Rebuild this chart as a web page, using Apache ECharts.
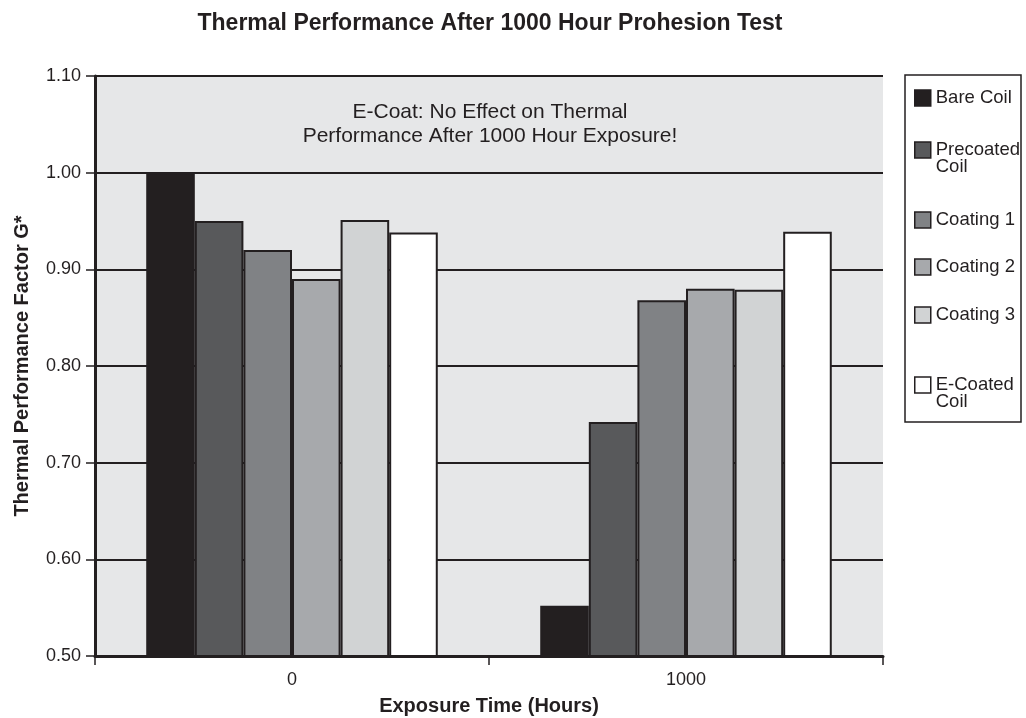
<!DOCTYPE html>
<html>
<head>
<meta charset="utf-8">
<script src="https://cdn.jsdelivr.net/npm/echarts@6/dist/echarts.min.js"></script>
<style>html,body{margin:0;padding:0;background:#fff}#c{width:1026px;height:718px}</style>
</head>
<body>
<div id="c"></div>
<script>
const categories = ['0', '1000'];
const seriesNames = ['Bare Coil', 'Precoated\nCoil', 'Coating 1', 'Coating 2', 'Coating 3', 'E-Coated\nCoil'];
const bareCoil = [1.00, 0.552];
const precoatedCoil = [0.950, 0.742];
const coating1 = [0.920, 0.868];
const coating2 = [0.890, 0.880];
const coating3 = [0.951, 0.879];
const eCoatedCoil = [0.938, 0.939];
const yTicks = [0.5, 0.6, 0.7, 0.8, 0.9, 1.0, 1.1];

const values = [bareCoil, precoatedCoil, coating1, coating2, coating3, eCoatedCoil];
const colors = ['#231f20', '#58595b', '#808285', '#a7a9ac', '#d1d3d4', '#ffffff'];
const FONT = '"Liberation Sans", Arial, Helvetica, sans-serif';
const INK = '#231f20';
const legendTops = [88.5, 123.5, 210.5, 257.5, 305.5, 358.5];

const chart = echarts.init(document.getElementById('c'), null, {renderer: 'canvas'});
const option = {
  backgroundColor: '#ffffff',
  animation: false,
  title: {
    text: 'Thermal Performance After 1000 Hour Prohesion Test',
    left: 490, top: 12, textAlign: 'center', padding: 0,
    textStyle: {fontFamily: FONT, fontWeight: 'bold', fontSize: 23, color: INK}
  },
  legend: seriesNames.map((n, i) => {
    const multi = n.indexOf('\n') >= 0;
    return {
      orient: 'vertical', left: 914, top: legendTops[i], padding: 0,
      data: [n], itemWidth: 16, itemHeight: 16, itemGap: 0, selectedMode: false,
      icon: 'rect',
      formatter: name => (multi ? '\n' + name : name),
      itemStyle: {borderColor: INK, borderWidth: 1.5},
      textStyle: {fontFamily: FONT, fontSize: 18.5, color: INK, lineHeight: 17}
    };
  }),
  grid: {left: 95, right: 143, top: 76, bottom: 62, backgroundColor: '#e6e7e8', show: true, borderWidth: 0, outerBoundsMode: 'none', containLabel: false},
  xAxis: {
    type: 'category', data: categories,
    name: 'Exposure Time (Hours)', nameLocation: 'middle', nameGap: 40,
    nameTextStyle: {fontFamily: FONT, fontWeight: 'bold', fontSize: 20, color: INK},
    axisLine: {lineStyle: {color: INK, width: 3}},
    axisTick: {show: true, alignWithLabel: false, length: 9, lineStyle: {color: INK, width: 1.5}},
    axisLabel: {fontFamily: FONT, fontSize: 18, color: INK, margin: 15}
  },
  yAxis: {
    type: 'value', min: 0.5, max: 1.1, interval: 0.1,
    name: 'Thermal Performance Factor G*', nameLocation: 'middle', nameGap: 63, nameRotate: 90,
    nameTextStyle: {fontFamily: FONT, fontWeight: 'bold', fontSize: 20, color: INK},
    axisLine: {show: true, lineStyle: {color: INK, width: 3}},
    axisTick: {show: true, length: 9, lineStyle: {color: INK, width: 1.5}},
    axisLabel: {fontFamily: FONT, fontSize: 18, color: INK, margin: 14, formatter: v => v.toFixed(2)},
    splitLine: {show: true, lineStyle: {color: INK, width: 2}}
  },
  graphic: [
    {type: 'rect', shape: {x: 905, y: 75, width: 116, height: 347}, style: {fill: '#ffffff', stroke: INK, lineWidth: 1.5}, z: -1},
    {type: 'text', x: 490, y: 100, style: {text: 'E-Coat: No Effect on Thermal\nPerformance After 1000 Hour Exposure!', fontFamily: FONT, fontSize: 21, fill: INK, align: 'center', verticalAlign: 'top', lineHeight: 24}, z: 10}
  ],
  series: values.map((v, i) => ({
    name: seriesNames[i], type: 'bar', data: v,
    barGap: '0%', barCategoryGap: '26%',
    itemStyle: {color: colors[i], borderColor: INK, borderWidth: 2},
    z: 3
  }))
};
chart.setOption(option);
</script>
</body>
</html>
